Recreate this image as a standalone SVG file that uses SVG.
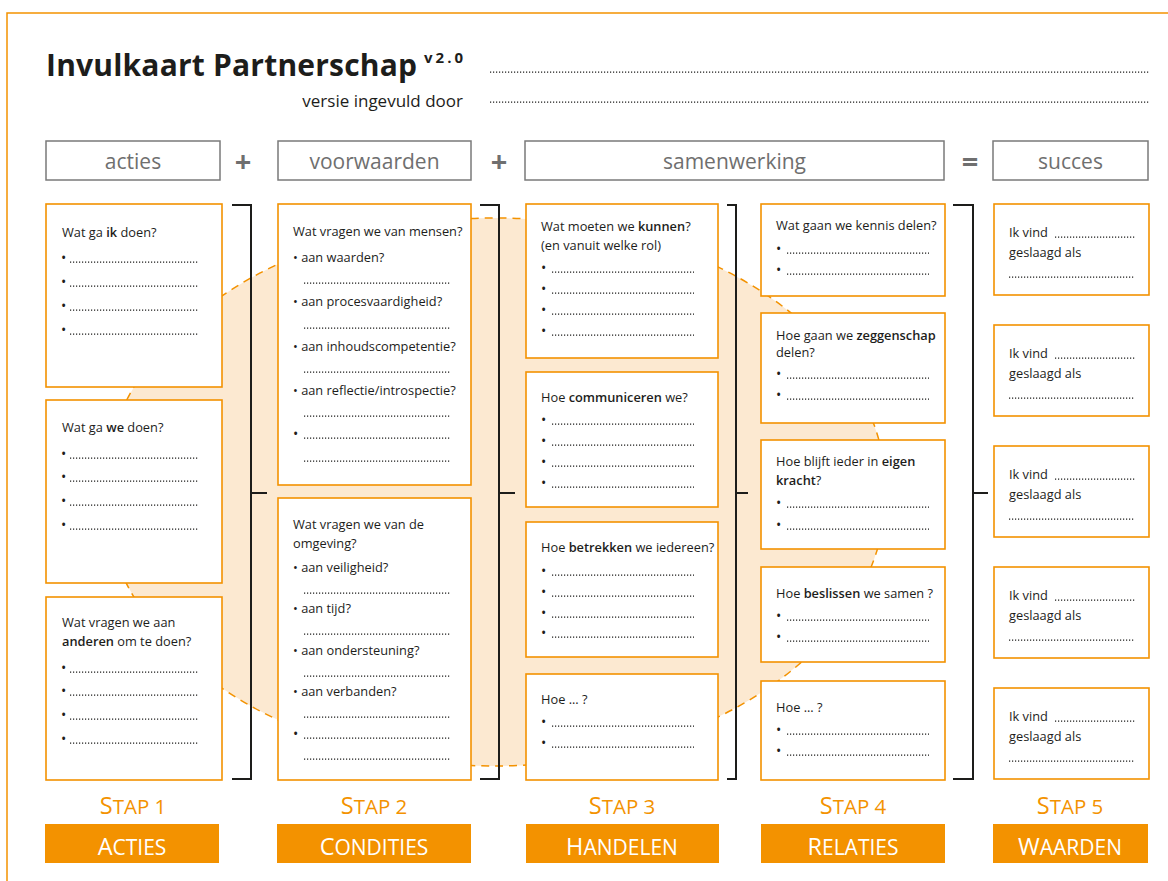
<svg xmlns="http://www.w3.org/2000/svg" width="1168" height="881" viewBox="0 0 1168 881">
<style>
text{font-family:'Open Sans','Noto Sans','DejaVu Sans',sans-serif;fill:#1d1d1b}
.t{font-size:12.8px}
.bu{font-size:14px}
.b{font-weight:600}
.card{fill:#fff;stroke:#F39200;stroke-width:1.6}
.dots{stroke:#1d1d1b;stroke-width:1.25;stroke-dasharray:1.2 1.8;fill:none}
.hbox{fill:#fff;stroke:#7a7a7a;stroke-width:1.5}
.htx{font-size:21px;fill:#6f6f6f;text-anchor:middle}
.op{font-size:29px;font-weight:700;fill:#6f6f6f;text-anchor:middle}
.brk{fill:none;stroke:#1d1d1b;stroke-width:2}
.stap{font-size:20.5px;fill:#F39200;text-anchor:middle}
.obox{fill:#F39200}
.otx{font-size:21px;fill:#fff;text-anchor:middle}
.big{font-size:23.5px}
</style>
<g id="frame">
<path d="M7,881 V13 H1168" fill="none" stroke="#F39200" stroke-width="1.5"/>
</g>
<g id="background-ellipse">
<ellipse cx="495" cy="492" rx="391" ry="274" fill="#FCE9D1" stroke="#F39200" stroke-width="1.5" stroke-dasharray="8 6"/>
</g>
<g id="title">
<text x="46" y="76" font-size="30" font-weight="700" textLength="371">Invulkaart Partnerschap</text>
<text x="424" y="63" font-size="15" font-weight="700" textLength="39">v2.0</text>
<text x="463" y="107" font-size="17" text-anchor="end">versie ingevuld door</text>
<line class="dots" x1="490" y1="72" x2="1150" y2="72"/>
<line class="dots" x1="490" y1="102" x2="1150" y2="102"/>
</g>
<g id="header">
<rect class="hbox" x="46" y="141" width="174" height="39"/>
<text class="htx" x="133" y="169">acties</text>
<text class="op" x="243" y="172">+</text>
<rect class="hbox" x="278" y="141" width="193" height="39"/>
<text class="htx" x="374.5" y="169">voorwaarden</text>
<text class="op" x="499" y="172">+</text>
<rect class="hbox" x="525" y="141" width="419" height="39"/>
<text class="htx" x="734.5" y="169">samenwerking</text>
<text class="op" x="970" y="172">=</text>
<rect class="hbox" x="993" y="141" width="155" height="39"/>
<text class="htx" x="1070.5" y="169">succes</text>
</g>
<g id="connectors">
<path class="brk" d="M232,205 H251 V779 H232 M251,493 H267"/>
<path class="brk" d="M480,205 H499 V779 H480 M499,493 H515"/>
<path class="brk" d="M727,205 H736 V779 H727 M736,493 H748"/>
<path class="brk" d="M953,205 H973 V779 H953 M973,493 H988"/>
</g>
<g id="col1-card1">
<rect class="card" x="46" y="204" width="176" height="183"/>
<text class="t" x="62" y="237">Wat ga <tspan class="b">ik</tspan> doen?</text>
<text class="bu" x="61" y="263">•</text><line class="dots" x1="70" y1="262" x2="199" y2="262"/>
<text class="bu" x="61" y="287">•</text><line class="dots" x1="70" y1="286" x2="199" y2="286"/>
<text class="bu" x="61" y="311">•</text><line class="dots" x1="70" y1="310" x2="199" y2="310"/>
<text class="bu" x="61" y="335">•</text><line class="dots" x1="70" y1="334" x2="199" y2="334"/>
</g>
<g id="col1-card2">
<rect class="card" x="46" y="400" width="176" height="183"/>
<text class="t" x="62" y="432">Wat ga <tspan class="b">we</tspan> doen?</text>
<text class="bu" x="61" y="459">•</text><line class="dots" x1="70" y1="458" x2="199" y2="458"/>
<text class="bu" x="61" y="482">•</text><line class="dots" x1="70" y1="481" x2="199" y2="481"/>
<text class="bu" x="61" y="506">•</text><line class="dots" x1="70" y1="505" x2="199" y2="505"/>
<text class="bu" x="61" y="530">•</text><line class="dots" x1="70" y1="529" x2="199" y2="529"/>
</g>
<g id="col1-card3">
<rect class="card" x="46" y="597" width="176" height="183"/>
<text class="t" x="62" y="627">Wat vragen we aan</text>
<text class="t" x="62" y="646"><tspan class="b">anderen</tspan> om te doen?</text>
<text class="bu" x="61" y="673">•</text><line class="dots" x1="70" y1="672" x2="199" y2="672"/>
<text class="bu" x="61" y="696">•</text><line class="dots" x1="70" y1="695" x2="199" y2="695"/>
<text class="bu" x="61" y="720">•</text><line class="dots" x1="70" y1="719" x2="199" y2="719"/>
<text class="bu" x="61" y="744">•</text><line class="dots" x1="70" y1="743" x2="199" y2="743"/>
</g>
<g id="col2-card1">
<rect class="card" x="278" y="204" width="193" height="281"/>
<text class="t" x="293" y="236">Wat vragen we van mensen?</text>
<text class="t" x="293" y="262">• aan waarden?</text>
<line class="dots" x1="304" y1="283" x2="450" y2="283"/>
<text class="t" x="293" y="306">• aan procesvaardigheid?</text>
<line class="dots" x1="304" y1="328" x2="450" y2="328"/>
<text class="t" x="293" y="351">• aan inhoudscompetentie?</text>
<line class="dots" x1="304" y1="372" x2="450" y2="372"/>
<text class="t" x="293" y="395">• aan reflectie/introspectie?</text>
<line class="dots" x1="304" y1="416" x2="450" y2="416"/>
<text class="bu" x="293" y="439">•</text><line class="dots" x1="304" y1="438" x2="450" y2="438"/>
<line class="dots" x1="304" y1="461" x2="450" y2="461"/>
</g>
<g id="col2-card2">
<rect class="card" x="278" y="498" width="193" height="282"/>
<text class="t" x="293" y="529">Wat vragen we van de</text>
<text class="t" x="293" y="548">omgeving?</text>
<text class="t" x="293" y="572">• aan veiligheid?</text>
<line class="dots" x1="304" y1="593" x2="450" y2="593"/>
<text class="t" x="293" y="613">• aan tijd?</text>
<line class="dots" x1="304" y1="634" x2="450" y2="634"/>
<text class="t" x="293" y="655">• aan ondersteuning?</text>
<line class="dots" x1="304" y1="676" x2="450" y2="676"/>
<text class="t" x="293" y="696">• aan verbanden?</text>
<line class="dots" x1="304" y1="717" x2="450" y2="717"/>
<text class="bu" x="293" y="739">•</text><line class="dots" x1="304" y1="738" x2="450" y2="738"/>
<line class="dots" x1="304" y1="759" x2="450" y2="759"/>
</g>
<g id="col3-card1">
<rect class="card" x="526" y="204" width="192" height="154"/>
<text class="t" x="541" y="231">Wat moeten we <tspan class="b">kunnen</tspan>?</text>
<text class="t" x="541" y="250">(en vanuit welke rol)</text>
<text class="bu" x="541" y="273">•</text><line class="dots" x1="552" y1="272" x2="694" y2="272"/>
<text class="bu" x="541" y="294">•</text><line class="dots" x1="552" y1="293" x2="694" y2="293"/>
<text class="bu" x="541" y="315">•</text><line class="dots" x1="552" y1="314" x2="694" y2="314"/>
<text class="bu" x="541" y="336">•</text><line class="dots" x1="552" y1="335" x2="694" y2="335"/>
</g>
<g id="col3-card2">
<rect class="card" x="526" y="372" width="192" height="135"/>
<text class="t" x="541" y="402">Hoe <tspan class="b">communiceren</tspan> we?</text>
<text class="bu" x="541" y="425">•</text><line class="dots" x1="552" y1="424" x2="694" y2="424"/>
<text class="bu" x="541" y="446">•</text><line class="dots" x1="552" y1="445" x2="694" y2="445"/>
<text class="bu" x="541" y="467">•</text><line class="dots" x1="552" y1="466" x2="694" y2="466"/>
<text class="bu" x="541" y="488">•</text><line class="dots" x1="552" y1="487" x2="694" y2="487"/>
</g>
<g id="col3-card3">
<rect class="card" x="526" y="522" width="192" height="135"/>
<text class="t" x="541" y="552">Hoe <tspan class="b">betrekken</tspan> we iedereen?</text>
<text class="bu" x="541" y="576">•</text><line class="dots" x1="552" y1="575" x2="694" y2="575"/>
<text class="bu" x="541" y="597">•</text><line class="dots" x1="552" y1="596" x2="694" y2="596"/>
<text class="bu" x="541" y="618">•</text><line class="dots" x1="552" y1="617" x2="694" y2="617"/>
<text class="bu" x="541" y="638">•</text><line class="dots" x1="552" y1="637" x2="694" y2="637"/>
</g>
<g id="col3-card4">
<rect class="card" x="526" y="674" width="192" height="106"/>
<text class="t" x="541" y="704">Hoe ... ?</text>
<text class="bu" x="541" y="727">•</text><line class="dots" x1="552" y1="726" x2="694" y2="726"/>
<text class="bu" x="541" y="748">•</text><line class="dots" x1="552" y1="747" x2="694" y2="747"/>
</g>
<g id="col4-card1">
<rect class="card" x="761" y="204" width="184" height="92"/>
<text class="t" x="776" y="230">Wat gaan we kennis delen?</text>
<text class="bu" x="776" y="254">•</text><line class="dots" x1="787" y1="253" x2="929" y2="253"/>
<text class="bu" x="776" y="275">•</text><line class="dots" x1="787" y1="274" x2="929" y2="274"/>
</g>
<g id="col4-card2">
<rect class="card" x="761" y="313" width="184" height="110"/>
<text class="t" x="776" y="340">Hoe gaan we <tspan class="b">zeggenschap</tspan></text>
<text class="t" x="776" y="357">delen?</text>
<text class="bu" x="776" y="379">•</text><line class="dots" x1="787" y1="378" x2="929" y2="378"/>
<text class="bu" x="776" y="400">•</text><line class="dots" x1="787" y1="399" x2="929" y2="399"/>
</g>
<g id="col4-card3">
<rect class="card" x="761" y="440" width="184" height="109"/>
<text class="t" x="776" y="466">Hoe blijft ieder in <tspan class="b">eigen</tspan></text>
<text class="t" x="776" y="485"><tspan class="b">kracht</tspan>?</text>
<text class="bu" x="776" y="508">•</text><line class="dots" x1="787" y1="507" x2="929" y2="507"/>
<text class="bu" x="776" y="530">•</text><line class="dots" x1="787" y1="529" x2="929" y2="529"/>
</g>
<g id="col4-card4">
<rect class="card" x="761" y="567" width="184" height="95"/>
<text class="t" x="776" y="598">Hoe <tspan class="b">beslissen</tspan> we samen ?</text>
<text class="bu" x="776" y="621">•</text><line class="dots" x1="787" y1="620" x2="929" y2="620"/>
<text class="bu" x="776" y="642">•</text><line class="dots" x1="787" y1="641" x2="929" y2="641"/>
</g>
<g id="col4-card5">
<rect class="card" x="761" y="681" width="184" height="99"/>
<text class="t" x="776" y="712">Hoe ... ?</text>
<text class="bu" x="776" y="735">•</text><line class="dots" x1="787" y1="734" x2="929" y2="734"/>
<text class="bu" x="776" y="756">•</text><line class="dots" x1="787" y1="755" x2="929" y2="755"/>
</g>
<g id="col5-card1">
<rect class="card" x="994" y="204" width="155" height="91"/>
<text class="t" x="1009" y="237">Ik vind</text><line class="dots" x1="1055" y1="237" x2="1135" y2="237"/>
<text class="t" x="1009" y="257">geslaagd als</text>
<line class="dots" x1="1009" y1="277" x2="1135" y2="277"/>
</g>
<g id="col5-card2">
<rect class="card" x="994" y="325" width="155" height="91"/>
<text class="t" x="1009" y="358">Ik vind</text><line class="dots" x1="1055" y1="358" x2="1135" y2="358"/>
<text class="t" x="1009" y="378">geslaagd als</text>
<line class="dots" x1="1009" y1="398" x2="1135" y2="398"/>
</g>
<g id="col5-card3">
<rect class="card" x="994" y="446" width="155" height="91"/>
<text class="t" x="1009" y="479">Ik vind</text><line class="dots" x1="1055" y1="479" x2="1135" y2="479"/>
<text class="t" x="1009" y="499">geslaagd als</text>
<line class="dots" x1="1009" y1="519" x2="1135" y2="519"/>
</g>
<g id="col5-card4">
<rect class="card" x="994" y="567" width="155" height="91"/>
<text class="t" x="1009" y="600">Ik vind</text><line class="dots" x1="1055" y1="600" x2="1135" y2="600"/>
<text class="t" x="1009" y="620">geslaagd als</text>
<line class="dots" x1="1009" y1="640" x2="1135" y2="640"/>
</g>
<g id="col5-card5">
<rect class="card" x="994" y="688" width="155" height="91"/>
<text class="t" x="1009" y="721">Ik vind</text><line class="dots" x1="1055" y1="721" x2="1135" y2="721"/>
<text class="t" x="1009" y="741">geslaagd als</text>
<line class="dots" x1="1009" y1="761" x2="1135" y2="761"/>
</g>
<g id="step1">
<text class="stap" x="133" y="814"><tspan class="big">S</tspan>TAP 1</text>
<rect class="obox" x="45" y="824" width="174" height="39"/>
<text class="otx" x="132" y="855"><tspan class="big">A</tspan>CTIES</text>
</g>
<g id="step2">
<text class="stap" x="374" y="814"><tspan class="big">S</tspan>TAP 2</text>
<rect class="obox" x="277" y="824" width="194" height="39"/>
<text class="otx" x="374" y="855"><tspan class="big">C</tspan>ONDITIES</text>
</g>
<g id="step3">
<text class="stap" x="622" y="814"><tspan class="big">S</tspan>TAP 3</text>
<rect class="obox" x="526" y="824" width="193" height="39"/>
<text class="otx" x="622" y="855"><tspan class="big">H</tspan>ANDELEN</text>
</g>
<g id="step4">
<text class="stap" x="853" y="814"><tspan class="big">S</tspan>TAP 4</text>
<rect class="obox" x="761" y="824" width="184" height="39"/>
<text class="otx" x="853" y="855"><tspan class="big">R</tspan>ELATIES</text>
</g>
<g id="step5">
<text class="stap" x="1070" y="814"><tspan class="big">S</tspan>TAP 5</text>
<rect class="obox" x="993" y="824" width="155" height="39"/>
<text class="otx" x="1070" y="855"><tspan class="big">W</tspan>AARDEN</text>
</g>
</svg>
